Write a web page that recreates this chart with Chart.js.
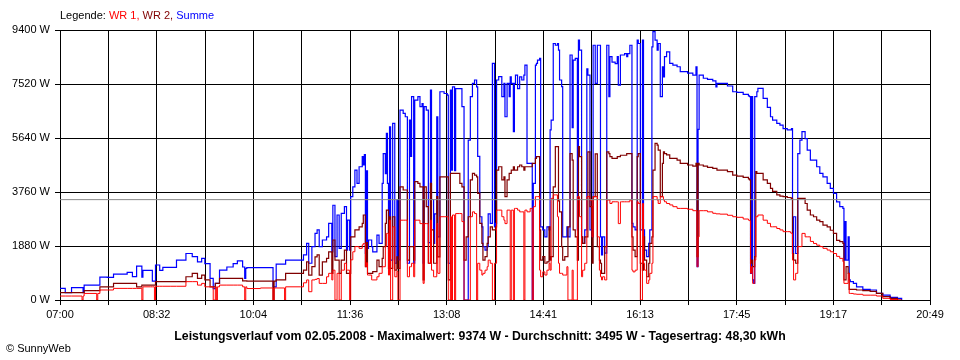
<!DOCTYPE html>
<html lang="de">
<head>
<meta charset="utf-8">
<title>Leistungsverlauf 02.05.2008</title>
<script src="https://cdn.jsdelivr.net/npm/chart.js@4.4.1/dist/chart.umd.min.js"></script>
<style>
  html, body { margin: 0; padding: 0; background: #fff; }
  #wrap { position: relative; width: 960px; height: 360px; font-family: "Liberation Sans", Arial, sans-serif; font-size: 11px; color: #000; }
  #chart { position: absolute; left: 0; top: 0; }
  #legende { position: absolute; left: 60px; top: 9px; line-height: 13px; white-space: nowrap; }
  #copy { position: absolute; left: 6px; top: 342px; line-height: 13px; white-space: nowrap; }
</style>
</head>
<body>
<div id="wrap">
  <canvas id="chart" width="960" height="360"></canvas>
  <div id="legende">Legende: <span style="color:#ff0000">WR 1,</span> <span style="color:#800000">WR 2,</span> <span style="color:#0000ff">Summe</span></div>
  <div id="copy">© SunnyWeb</div>
</div>
<script>
// Zeitpunkte in Minuten ab 07:00
const minutes = [
  0, 5, 11, 21, 22, 23, 35, 36, 38, 45,
  51, 64, 69, 73, 78, 79, 86, 88, 90, 91,
  95, 98, 105, 111, 120, 126, 131, 135, 138, 143,
  146, 148, 149, 150, 152, 159, 165, 169, 174, 176,
  177, 178, 191, 203, 204, 206, 214, 215, 229, 232,
  235, 237, 240, 243, 245, 247, 250, 254, 256, 259,
  260, 262, 264, 266, 268, 269, 271, 273, 274, 276,
  277, 279, 281, 283, 285, 288, 289, 290, 291, 292,
  293, 294, 297, 298, 302, 304, 307, 308, 310, 311,
  312, 313, 314, 315, 317, 319, 321, 322, 324, 327,
  329, 331, 333, 334, 335, 337, 338, 341, 343, 345,
  346, 347, 349, 351, 353, 354, 356, 357, 359, 360,
  362, 366, 369, 370, 372, 373, 374, 376, 377, 381,
  383, 385, 387, 389, 391, 393, 395, 397, 398, 400,
  402, 403, 405, 407, 408, 410, 412, 414, 415, 416,
  418, 421, 423, 424, 426, 428, 429, 430, 432, 433,
  434, 436, 438, 440, 442, 443, 445, 448, 450, 451,
  453, 454, 455, 457, 458, 460, 462, 464, 466, 467,
  468, 470, 472, 474, 475, 476, 478, 479, 481, 483,
  484, 486, 488, 489, 491, 493, 494, 495, 497, 498,
  500, 502, 503, 505, 507, 508, 510, 512, 514, 515,
  516, 517, 519, 521, 523, 524, 526, 529, 531, 532,
  534, 535, 538, 540, 541, 543, 545, 546, 548, 550,
  551, 553, 555, 556, 557, 559, 561, 562, 564, 565,
  567, 569, 570, 572, 574, 575, 576, 578, 581, 584,
  588, 591, 598, 603, 606, 607, 608, 609, 613, 617,
  622, 625, 626, 629, 636, 641, 645, 651, 656, 657,
  658, 659, 660, 661, 662, 663, 664, 665, 670, 674,
  677, 679, 683, 686, 689, 693, 696, 697, 698, 699,
  701, 703, 705, 707, 710, 712, 715, 718, 721, 724,
  727, 731, 734, 737, 740, 743, 746, 747, 748, 749,
  751, 752, 753, 756, 759, 765, 772, 778, 784, 791,
  798, 802
];

// Wechselrichter 1 (W)
const wr1 = [
  139, 139, 139, 0, 139, 230, 0, 230, 350, 350,
  406, 406, 406, 406, 0, 460, 460, 460, 0, 480,
  480, 480, 480, 480, 640, 640, 520, 580, 460, 460,
  0, 460, 0, 460, 520, 520, 520, 520, 460, 0,
  460, 400, 420, 0, 420, 420, 0, 460, 460, 600,
  700, 290, 700, 720, 750, 580, 580, 810, 930, 700,
  1040, 0, 930, 0, 1040, 1040, 1280, 1040, 1040, 0,
  1400, 1680, 1860, 1860, 1800, 1920, 1970, 1970, 1160, 1300,
  870, 870, 700, 700, 810, 930, 1160, 1160, 1860, 2320,
  2320, 870, 2780, 0, 2550, 810, 1000, 0, 2780, 2780,
  2780, 810, 1160, 1160, 1280, 810, 2780, 2780, 2660, 2660,
  580, 2660, 2660, 1280, 2780, 1040, 810, 810, 2660, 930,
  2900, 2900, 2900, 0, 2900, 0, 2960, 0, 3010, 3010,
  2730, 0, 0, 0, 2900, 3070, 3010, 0, 1280, 1040,
  870, 930, 1040, 1160, 1390, 1280, 0, 1280, 1280, 3130,
  3130, 2900, 2780, 2660, 3130, 3130, 0, 3130, 0, 3190,
  3190, 3130, 3070, 3070, 0, 3130, 3070, 3190, 0, 3250,
  3600, 3600, 3600, 1040, 810, 980, 870, 1040, 1280, 1040,
  3540, 3660, 3660, 2900, 1280, 930, 930, 870, 870, 1160,
  0, 0, 1040, 0, 0, 3600, 3600, 2900, 810, 1040,
  1280, 3600, 3600, 3480, 2200, 3600, 3600, 2200, 1040, 810,
  700, 810, 700, 3480, 3480, 3360, 3420, 3420, 3420, 2660,
  3420, 3420, 3420, 3420, 3420, 3480, 1040, 980, 1040, 3420,
  3360, 0, 3360, 1280, 1040, 580, 700, 930, 1280, 3600,
  3600, 3480, 3360, 3600, 3600, 3480, 3420, 3360, 3310, 3250,
  3190, 3190, 3160, 3110, 3110, 1160, 2200, 3110, 3110, 3070,
  3020, 3000, 3000, 2990, 2950, 2900, 2880, 2820, 2780, 2760,
  930, 1160, 580, 580, 1390, 2900, 2900, 2960, 2780, 2670,
  2550, 2550, 2490, 2440, 2380, 2380, 2340, 2320, 1390, 700,
  930, 1860, 1860, 2320, 2200, 2200, 2040, 1970, 1910, 1860,
  1800, 1740, 1680, 1620, 1520, 1450, 1340, 580, 580, 580,
  930, 230, 230, 210, 200, 170, 170, 140, 60, 20,
  0, 0
];

// Wechselrichter 2 (W)
const wr2 = [
  255, 255, 255, 255, 255, 325, 325, 325, 460, 460,
  580, 580, 580, 460, 520, 520, 520, 520, 520, 640,
  640, 640, 640, 640, 810, 930, 755, 870, 700, 460,
  460, 580, 580, 580, 755, 755, 755, 755, 670, 670,
  670, 660, 660, 0, 660, 700, 700, 930, 930, 1040,
  1330, 870, 1160, 1500, 1570, 870, 1330, 1450, 1680, 930,
  2090, 1390, 1390, 930, 1390, 1390, 1740, 930, 930, 930,
  2200, 2200, 2440, 2440, 2550, 2670, 2960, 2960, 1160, 2000,
  930, 930, 930, 990, 1390, 1160, 1450, 1860, 2670, 3130,
  3130, 1100, 2900, 1100, 2900, 1040, 1500, 1100, 3940, 3830,
  3830, 1390, 1860, 1860, 1860, 1390, 4120, 4060, 3940, 3940,
  700, 3940, 3250, 1280, 4060, 2440, 1280, 1280, 3600, 1500,
  4290, 4290, 4290, 700, 4410, 4410, 4410, 4410, 4410, 4060,
  3940, 1390, 2200, 2900, 4180, 4410, 4350, 4290, 3710, 2670,
  1970, 1390, 1510, 1970, 2200, 2550, 2440, 2440, 2550, 4520,
  4640, 4180, 4290, 3600, 4180, 4410, 4410, 4520, 4640, 4520,
  4520, 4640, 4700, 4640, 4520, 4640, 4640, 4640, 4760, 4760,
  4930, 4990, 4990, 2440, 1390, 1510, 1280, 1330, 2550, 1390,
  1510, 3940, 5340, 5340, 3450, 3070, 1860, 1390, 1510, 1510,
  2550, 5100, 4870, 2440, 2200, 1390, 5340, 4990, 2200, 1970,
  2200, 2200, 5160, 3250, 1280, 3600, 5090, 1860, 1390, 1280,
  930, 930, 1860, 5160, 5100, 4990, 4930, 4930, 4990, 4990,
  5040, 5040, 5040, 5100, 5100, 5100, 2200, 1740, 1510, 4990,
  5100, 1280, 1040, 2200, 1390, 810, 1280, 1970, 2200, 4520,
  5450, 5390, 5220, 3600, 4760, 5160, 5100, 5050, 4930, 4930,
  4870, 4760, 4700, 4660, 4760, 1510, 4760, 4700, 4660, 4620,
  4580, 4580, 4520, 4520, 4470, 4350, 4310, 4270, 4220, 4180,
  1280, 1390, 1160, 1160, 1510, 4470, 4410, 4410, 4180, 4060,
  3890, 3780, 3660, 3620, 3600, 3570, 3560, 3540, 1620, 1390,
  1280, 3540, 3540, 3540, 3360, 3130, 2960, 2900, 2780, 2730,
  2610, 2550, 2430, 2320, 2080, 2030, 1970, 700, 700, 1160,
  930, 370, 370, 370, 350, 330, 300, 230, 120, 60,
  0, 0
];

// Summe beider Wechselrichter (W)
const summe = [
  406, 255, 430, 430, 255, 520, 520, 520, 800, 790,
  905, 963, 812, 1183, 800, 1030, 1030, 660, 660, 1220,
  1030, 1140, 1140, 1390, 1620, 1510, 1330, 1450, 1270, 755,
  400, 580, 580, 580, 1040, 1150, 1270, 1360, 1150, 755,
  1100, 1125, 1125, 460, 460, 1250, 1250, 1390, 1390, 1570,
  1970, 1280, 1860, 2320, 2440, 1860, 2090, 2200, 2670, 1680,
  3300, 1510, 2960, 1800, 3020, 3020, 3250, 1740, 2780, 1740,
  3600, 3940, 4520, 4060, 4640, 4990, 4700, 5060, 1620, 4500,
  1800, 2090, 1860, 1680, 2260, 1970, 4060, 5100, 4400, 5800,
  4060, 1800, 6030, 1390, 6150, 1280, 3500, 1400, 6610, 6500,
  6380, 1280, 6260, 5000, 7080, 1280, 6960, 7080, 6730, 6840,
  1280, 6730, 6610, 2000, 7310, 3500, 1970, 3000, 6380, 2200,
  7250, 7190, 7130, 1280, 7310, 4520, 7420, 4500, 7360, 7360,
  6730, 0, 0, 5570, 7080, 7540, 7660, 7420, 5000, 2900,
  2550, 1860, 1740, 1860, 3000, 2670, 8240, 2550, 2670, 7660,
  7780, 7080, 7540, 6380, 7540, 7080, 7770, 7540, 5860, 7540,
  7830, 7360, 7770, 7660, 7830, 8180, 4760, 4760, 0, 4060,
  8180, 8240, 8350, 8410, 2550, 2440, 2200, 2550, 2440, 5920,
  6260, 8930, 8870, 8930, 8700, 7660, 7430, 2200, 2200, 2550,
  2200, 8530, 6000, 8350, 8410, 2440, 9050, 8700, 2200, 1970,
  2440, 8050, 7830, 2440, 2200, 8870, 7540, 8870, 8870, 2200,
  1570, 2200, 1630, 8870, 7080, 8470, 8280, 8230, 8470, 7480,
  8530, 8530, 8580, 8470, 8580, 8870, 2670, 2550, 2440, 9050,
  8930, 2440, 9050, 2440, 1740, 1510, 1970, 2440, 8810, 9340,
  9050, 8700, 8930, 7080, 8120, 7770, 8470, 8640, 8240, 8180,
  8120, 7950, 7900, 7830, 8120, 1160, 5940, 7830, 7720, 7680,
  7630, 7420, 7540, 7540, 7450, 7250, 7230, 7160, 7110, 7080,
  930, 7080, 700, 580, 7080, 7080, 7250, 7370, 7020, 6710,
  6380, 6260, 6150, 6090, 5970, 5920, 5920, 5970, 1620, 2900,
  1620, 5100, 5570, 5860, 5620, 5220, 4870, 4870, 4640, 4410,
  4290, 4060, 3890, 3710, 3420, 3250, 3190, 1390, 2730, 1390,
  2200, 700, 640, 580, 460, 370, 350, 230, 170, 90,
  60, 0
];

const xTickLabels = ['07:00', '08:32', '10:04', '11:36', '13:08', '14:41', '16:13', '17:45', '19:17', '20:49'];
const dayMinutes = 829;   // 07:00 bis 20:49
const yMax = 9400;
const yStep = 1880;
const averageW = 3495;
const titleText = 'Leistungsverlauf vom 02.05.2008 - Maximalwert: 9374 W - Durchschnitt: 3495 W - Tagesertrag: 48,30 kWh';

// Gitterlinien: zwischen zwei beschrifteten Zeiten liegt jeweils eine weitere
const gridCount = (xTickLabels.length - 1) * 2;
const gridMinutes = [];
for (let i = 0; i <= gridCount; i++) {
  gridMinutes.push(i * dayMinutes / gridCount);
}

function toPoints(values) {
  return minutes.map((m, i) => ({ x: m, y: values[i] }));
}

Chart.defaults.font.family = '"Liberation Sans", Arial, sans-serif';
Chart.defaults.font.size = 11;
Chart.defaults.color = '#000';

new Chart(document.getElementById('chart'), {
  type: 'line',
  data: {
    datasets: [
      {
        label: 'Durchschnitt',
        data: [{ x: 0, y: averageW }, { x: dayMinutes, y: averageW }],
        borderColor: '#8a8a8a',
        borderWidth: 1
      },
      {
        label: 'WR 1',
        data: toPoints(wr1),
        borderColor: '#ff0000',
        borderWidth: 1,
        stepped: true
      },
      {
        label: 'WR 2',
        data: toPoints(wr2),
        borderColor: '#800000',
        borderWidth: 1.2,
        stepped: true
      },
      {
        label: 'Summe',
        data: toPoints(summe),
        borderColor: '#0000ff',
        borderWidth: 1.2,
        stepped: true
      }
    ]
  },
  options: {
    responsive: false,
    animation: false,
    layout: { padding: { top: 30, right: 0, left: 0, bottom: 0 } },
    elements: { point: { radius: 0 }, line: { tension: 0 } },
    plugins: {
      legend: { display: false },
      tooltip: { enabled: false },
      title: {
        display: true,
        text: titleText,
        position: 'bottom',
        color: '#000',
        font: { size: 12.3, weight: 'bold' },
        padding: { top: 5, bottom: 16.2 }
      }
    },
    scales: {
      x: {
        type: 'linear',
        min: 0,
        max: dayMinutes,
        z: 1,
        afterBuildTicks: scale => {
          scale.ticks = gridMinutes.map(v => ({ value: v }));
        },
        afterFit: scale => { scale.height = 24; },
        ticks: {
          autoSkip: false,
          maxRotation: 0,
          padding: 3,
          color: '#000',
          callback: (value, index) => index % 2 === 0 ? xTickLabels[index / 2] : ''
        },
        grid: { color: '#000', lineWidth: 1, tickLength: 5 },
        border: { color: '#000' }
      },
      y: {
        min: 0,
        max: yMax,
        z: 1,
        afterFit: scale => { scale.width = 60; },
        ticks: {
          stepSize: yStep,
          padding: 5,
          color: '#000',
          callback: value => value + ' W'
        },
        grid: { color: '#000', lineWidth: 1, tickLength: 5 },
        border: { color: '#000' }
      },
      // leerer Rand rechts, damit der Titel über die ganze Breite zentriert bleibt
      rechts: {
        type: 'linear',
        position: 'right',
        min: 0,
        max: 1,
        afterFit: scale => { scale.width = 30; },
        ticks: { display: false },
        grid: { display: false },
        border: { display: false }
      }
    }
  }
});
</script>
</body>
</html>
